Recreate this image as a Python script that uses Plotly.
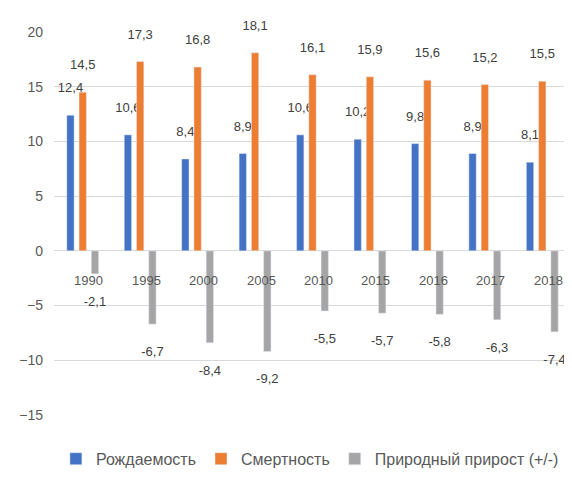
import plotly.graph_objects as go

years = ["1990", "1995", "2000", "2005", "2010", "2015", "2016", "2017", "2018"]
births = [12.4, 10.6, 8.4, 8.9, 10.6, 10.2, 9.8, 8.9, 8.1]
deaths = [14.5, 17.3, 16.8, 18.1, 16.1, 15.9, 15.6, 15.2, 15.5]
natural = [-2.1, -6.7, -8.4, -9.2, -5.5, -5.7, -5.8, -6.3, -7.4]
names = ["Рождаемость", "Смертность", "Природный прирост (+/-)"]
colors = ["#4472C4", "#ED7D31", "#A5A5A5"]


def fmt(v):
    s = f"{v:.1f}".replace(".", ",")
    # extra blank line pushes the label away from the bar end, as in the reference
    return s + "<br> " if v >= 0 else " <br>" + s


fig = go.Figure()
for name, vals, col in zip(names, [births, deaths, natural], colors):
    fig.add_trace(go.Bar(
        x=years, y=vals, name=name, marker_color=col,
        text=[fmt(v) for v in vals], textposition="outside",
        constraintext="none", textangle=0,
        textfont=dict(size=13, color="#404040"), cliponaxis=False,
    ))

for i, yr in enumerate(years):
    fig.add_annotation(x=i, y=0, xref="x", yref="y", text=yr, showarrow=False,
                       yanchor="top", yshift=-20, xshift=6,
                       font=dict(size=13, color="#595959"))

fig.update_layout(
    width=572, height=477,
    margin=dict(l=46, r=9, t=24, b=55),
    paper_bgcolor="white", plot_bgcolor="white",
    barmode="group", bargap=0.36, bargroupgap=0.4,
    font=dict(family="Liberation Sans, Arial, sans-serif", color="#595959"),
    showlegend=True,
    legend=dict(orientation="h", x=0.495, xanchor="center", y=-0.07, yanchor="top",
                font=dict(size=16, color="#595959"), itemwidth=30),
    uniformtext=dict(mode=False),
)
fig.update_xaxes(type="category", range=[-0.5, len(years) - 0.5],
                 showticklabels=False, showgrid=False,
                 showline=False, zeroline=False)
fig.update_yaxes(range=[-15, 20], dtick=5, tick0=0, showgrid=True, gridcolor="#D9D9D9",
                 zeroline=True, zerolinecolor="#D9D9D9", zerolinewidth=1,
                 tickfont=dict(size=14, color="#595959"), ticks="", showline=False,
                 ticklabelstandoff=10)

fig.write_html("out.html")
